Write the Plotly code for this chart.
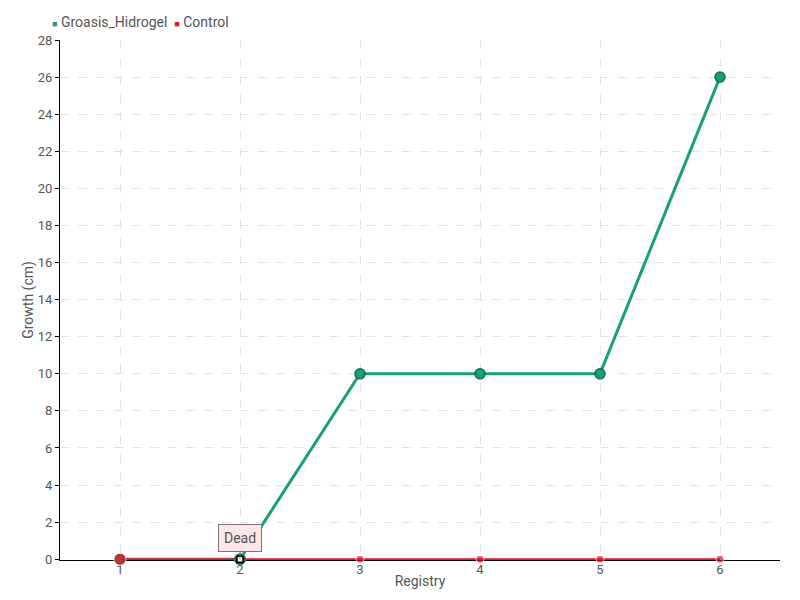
import plotly.graph_objects as go

registry = [1, 2, 3, 4, 5, 6]
groasis = [0, 0, 10, 10, 10, 26]
control = [0, 0, 0, 0, 0, 0]
y_ticks = list(range(0, 29, 2))
series_names = ["Groasis_Hidrogel", "Control"]

FONT = "Roboto, sans-serif"
teal = "#1a9e7e"
red = "#f0102a"

fig = go.Figure()
fig.add_trace(go.Scatter(
    x=registry, y=groasis, name=series_names[0], mode="lines+markers",
    line=dict(color=teal, width=3), showlegend=False, cliponaxis=False,
    marker=dict(size=10, color=teal, line=dict(color="#146e58", width=1.5)),
))
fig.add_trace(go.Scatter(
    x=registry, y=control, name=series_names[1], mode="lines+markers",
    line=dict(color=red, width=2), showlegend=False, cliponaxis=False,
    marker=dict(size=[12, 0, 8, 8, 8, 8], color=red),
))
# special marker for dead point
fig.add_trace(go.Scatter(
    x=[registry[1]], y=[groasis[1]], mode="markers", showlegend=False, cliponaxis=False,
    marker=dict(size=11, color="#7a1a1a", line=dict(color="#1a9e7e", width=1)),
    hoverinfo="skip",
))
fig.add_trace(go.Scatter(
    x=[registry[1]], y=[groasis[1]], mode="markers", showlegend=False, cliponaxis=False,
    marker=dict(size=6, symbol="square", color="white", line=dict(color="black", width=1.5)),
    hoverinfo="skip",
))

fig.add_annotation(
    x=registry[1], y=groasis[1], text="Dead", showarrow=True,
    arrowhead=0, arrowwidth=1, arrowcolor="#777", ax=0, ay=-21,
    bgcolor="#fde6e6", bordercolor="#777", borderwidth=1, borderpad=5,
    font=dict(family=FONT, size=14, color="#555"),
)

# compact legend
fig.add_annotation(
    xref="paper", yref="paper", x=-0.0139, y=1.0, xanchor="left", yanchor="bottom",
    yshift=8, showarrow=False,
    text=(f'<span style="color:{teal};font-size:9px">■</span> {series_names[0]}  '
          f'<span style="color:{red};font-size:9px">■</span> {series_names[1]}'),
    font=dict(family=FONT, size=14, color="#555"),
)

fig.update_layout(
    width=800, height=600,
    margin=dict(l=52, r=28, t=32, b=48, autoexpand=False),
    plot_bgcolor="white", paper_bgcolor="white",
    font=dict(family=FONT, size=13, color="#555"),
    showlegend=False,
)
fig.update_xaxes(
    range=[0.5, 6.5], tickmode="array", tickvals=registry, ticktext=[str(v) for v in registry],
    showgrid=True, gridcolor="#e3e3e3", griddash="dash",
    showline=True, linecolor="black", linewidth=1, layer="below traces",
    ticks="", ticklabelstandoff=-3, automargin=False,
    title=dict(text="Registry", standoff=0, font=dict(size=14, color="#555")),
    zeroline=False,
)
fig.update_yaxes(
    range=[-0.04, 28], tickmode="array", tickvals=y_ticks,
    showgrid=True, gridcolor="#e3e3e3", griddash="dash",
    showline=True, linecolor="black", linewidth=1, layer="below traces",
    ticks="outside", ticklen=4, tickcolor="black", automargin=False,
    title=dict(text="Growth (cm)", standoff=0, font=dict(size=14, color="#555")),
    zeroline=False,
)

fig.write_html("out.html")
